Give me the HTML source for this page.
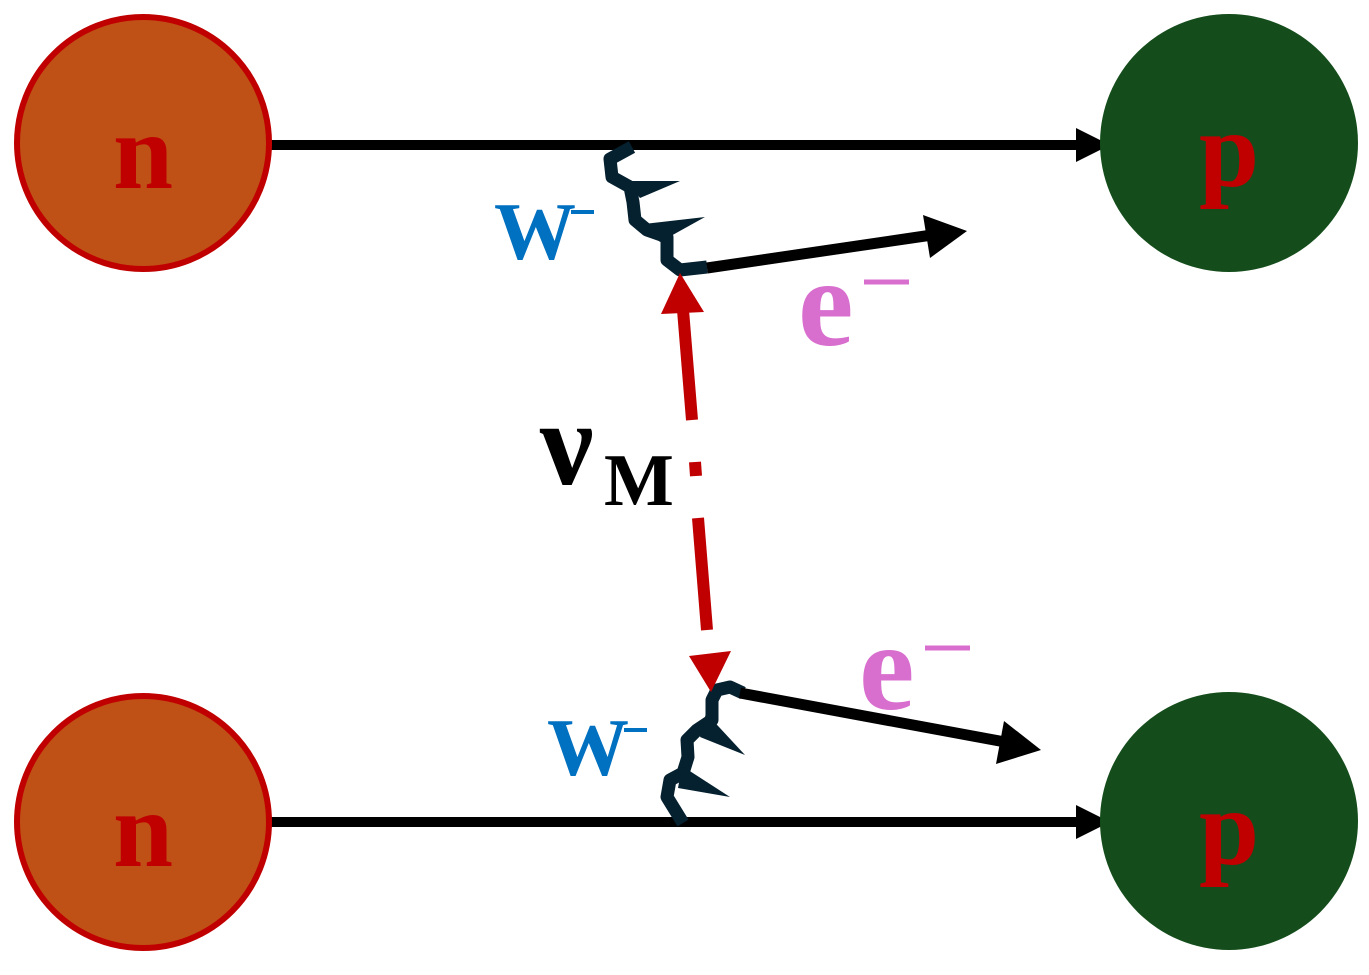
<!DOCTYPE html>
<html><head><meta charset="utf-8"><style>html,body{margin:0;padding:0;background:#fff}svg{display:block}</style></head>
<body>
<svg width="1369" height="975" viewBox="0 0 1369 975" xmlns="http://www.w3.org/2000/svg">
<g font-family="'Liberation Serif', serif" font-weight="bold">
<line x1="270" y1="145" x2="1082" y2="145" stroke="#000" stroke-width="10"/>
<polygon points="1076,128 1110,145 1076,162" fill="#000"/>
<line x1="270" y1="822" x2="1082" y2="822" stroke="#000" stroke-width="10"/>
<polygon points="1076,805 1110,822 1076,839" fill="#000"/>
<circle cx="143" cy="143" r="126" fill="#bf5016" stroke="#c00000" stroke-width="6"/>
<circle cx="143" cy="822" r="126" fill="#bf5016" stroke="#c00000" stroke-width="6"/>
<circle cx="1229" cy="143" r="129" fill="#144d1b"/>
<circle cx="1229" cy="821" r="129" fill="#144d1b"/>
<text x="143" y="188" font-size="108" fill="#c00000" text-anchor="middle">n</text>
<text x="143" y="866" font-size="108" fill="#c00000" text-anchor="middle">n</text>
<text x="1229" y="186" font-size="108" fill="#c00000" text-anchor="middle">p</text>
<text x="1229" y="864" font-size="108" fill="#c00000" text-anchor="middle">p</text>
<polyline points="632,147 610,159 612,177 630,187 633,202 635,220 647,230 667,237 667,260 680,270 707,267" fill="none" stroke="#05202f" stroke-width="13" stroke-linejoin="round"/>
<polygon points="626,181 680,181 640,198" fill="#05202f"/>
<polygon points="644,224 705,217 660,242" fill="#05202f"/>
<polyline points="743,693 730,687 717,690 712,700 712,720 697,730 687,740 688,757 683,773 670,780 667,797 683,823" fill="none" stroke="#05202f" stroke-width="13" stroke-linejoin="round"/>
<polygon points="706,713 745,755 700,737" fill="#05202f"/>
<polygon points="682,766 730,797 678,788" fill="#05202f"/>
<line x1="707" y1="268" x2="932" y2="235" stroke="#000" stroke-width="11"/>
<polygon points="923,215 967,231 930,258" fill="#000"/>
<line x1="740" y1="693" x2="1005" y2="742" stroke="#000" stroke-width="11"/>
<polygon points="1004,721 1041,750 996,764" fill="#000"/>
<line x1="692" y1="420" x2="683" y2="310" stroke="#c00000" stroke-width="12"/>
<line x1="695" y1="462" x2="696" y2="476" stroke="#c00000" stroke-width="12"/>
<line x1="698" y1="518" x2="707" y2="630" stroke="#c00000" stroke-width="12"/>
<polygon points="680,273 661,314 704,312" fill="#c00000"/>
<polygon points="711,692 689,656 731,651" fill="#c00000"/>
<text x="494" y="259" font-size="82" fill="#0070c0">W</text>
<line x1="571" y1="212" x2="594" y2="212" stroke="#0070c0" stroke-width="4"/>
<text x="547" y="775" font-size="82" fill="#0070c0">W</text>
<line x1="624" y1="730" x2="647" y2="730" stroke="#0070c0" stroke-width="4"/>
<text x="798" y="345" font-size="125" fill="#d86ece">e</text>
<line x1="864" y1="282" x2="909" y2="282" stroke="#d86ece" stroke-width="5"/>
<text x="859" y="709" font-size="125" fill="#d86ece">e</text>
<line x1="925" y1="648" x2="970" y2="648" stroke="#d86ece" stroke-width="5"/>
<text x="540" y="484" font-size="120" fill="#000">ν</text>
<text x="604" y="505" font-size="74" fill="#000">M</text>
</g>
</svg>
</body></html>
